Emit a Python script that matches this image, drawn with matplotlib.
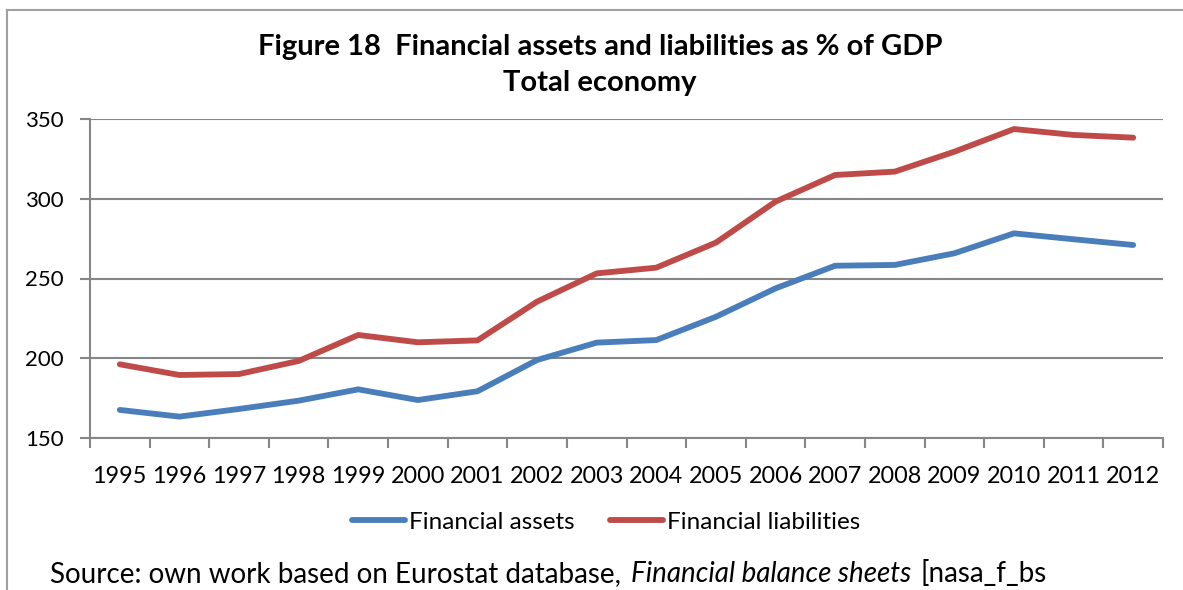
import matplotlib
matplotlib.use("Agg")
import matplotlib.pyplot as plt
from matplotlib.lines import Line2D
from matplotlib.offsetbox import TextArea, HPacker, AnchoredOffsetbox

years = [str(y) for y in range(1995, 2013)]
assets = [167.6, 163.4, 168.2, 173.4, 180.5, 173.8, 179.3, 198.9, 209.8, 211.4,
          226.0, 243.8, 258.0, 258.5, 265.8, 278.3, 274.6, 271.0]
liabilities = [196.2, 189.5, 190.1, 198.3, 214.6, 210.0, 211.2, 235.5, 253.2, 256.8,
               272.5, 298.2, 314.9, 317.0, 329.5, 343.7, 340.0, 338.3]
yticks = [150, 200, 250, 300, 350]

title1 = "Figure 18  Financial assets and liabilities as % of GDP"
title2 = "Total economy"

plt.rcParams['font.family'] = ['Lato', 'DejaVu Sans']

W, H = 1183, 590
fig = plt.figure(figsize=(W / 100, H / 100), dpi=100)
ax = fig.add_axes([90 / W, 1 - 438 / H, (1163 - 90) / W, (438 - 119) / H])

grey = '#868686'
blue = '#4a7ebb'
red = '#be4b48'

x = list(range(len(years)))
ax.plot(x, assets, color=blue, lw=4.2, solid_capstyle='round', solid_joinstyle='round', zorder=3)
ax.plot(x, liabilities, color=red, lw=4.2, solid_capstyle='round', solid_joinstyle='round', zorder=3)

ax.set_xlim(-0.5, len(years) - 0.5)
ax.set_ylim(150, 350)
ax.set_yticks(yticks)
ax.set_yticklabels([str(v) for v in yticks], fontsize=16)
ax.yaxis.grid(True, color=grey, lw=1.5)
ax.set_axisbelow(True)

ax.set_xticks(x)
ax.set_xticklabels(years, fontsize=16.8)
ax.set_xticks([i - 0.5 for i in range(len(years) + 1)], minor=True)
ax.tick_params(axis='x', which='major', length=0, pad=20)
ax.tick_params(axis='x', which='minor', length=7, width=1.5, color=grey)
ax.tick_params(axis='y', length=7, width=1.5, color=grey, pad=12)

for s in ['top', 'right']:
    ax.spines[s].set_visible(False)
for s in ['left', 'bottom']:
    ax.spines[s].set_color(grey)
    ax.spines[s].set_linewidth(1.5)

fig.text(600 / W, 1 - 47 / H, title1, ha='center', va='center', fontsize=21, fontweight='bold')
fig.text(600 / W, 1 - 83 / H, title2, ha='center', va='center', fontsize=21, fontweight='bold')

handles = [Line2D([], [], color=blue, lw=4.2, solid_capstyle='round'),
           Line2D([], [], color=red, lw=4.2, solid_capstyle='round')]
fig.legend(handles, ['Financial assets', 'Financial liabilities'], loc='center',
           bbox_to_anchor=(606 / W, 1 - 522 / H), ncol=2, frameon=False, fontsize=17.5,
           handlelength=2.2, handletextpad=0.15, columnspacing=1.45)

parts = [TextArea("Source: own work based on Eurostat database,", textprops=dict(fontsize=20)),
         TextArea("Financial balance sheets", textprops=dict(fontsize=20, style='italic')),
         TextArea("[nasa_f_bs", textprops=dict(fontsize=20))]
box = HPacker(children=parts, pad=0, sep=7, align='baseline')
ab = AnchoredOffsetbox(loc='center left', child=box, pad=0, frameon=False,
                       bbox_to_anchor=(50 / W, 1 - 574 / H), bbox_transform=fig.transFigure,
                       borderpad=0)
fig.add_artist(ab)

# outer frame
fig.add_artist(Line2D([7 / W, 7 / W], [0, 1 - 10 / H], transform=fig.transFigure, color='#a0a0a0', lw=1.5))
fig.add_artist(Line2D([7 / W, 1], [1 - 10 / H, 1 - 10 / H], transform=fig.transFigure, color='#a0a0a0', lw=1.5))

fig.savefig('out.png', dpi=100)
